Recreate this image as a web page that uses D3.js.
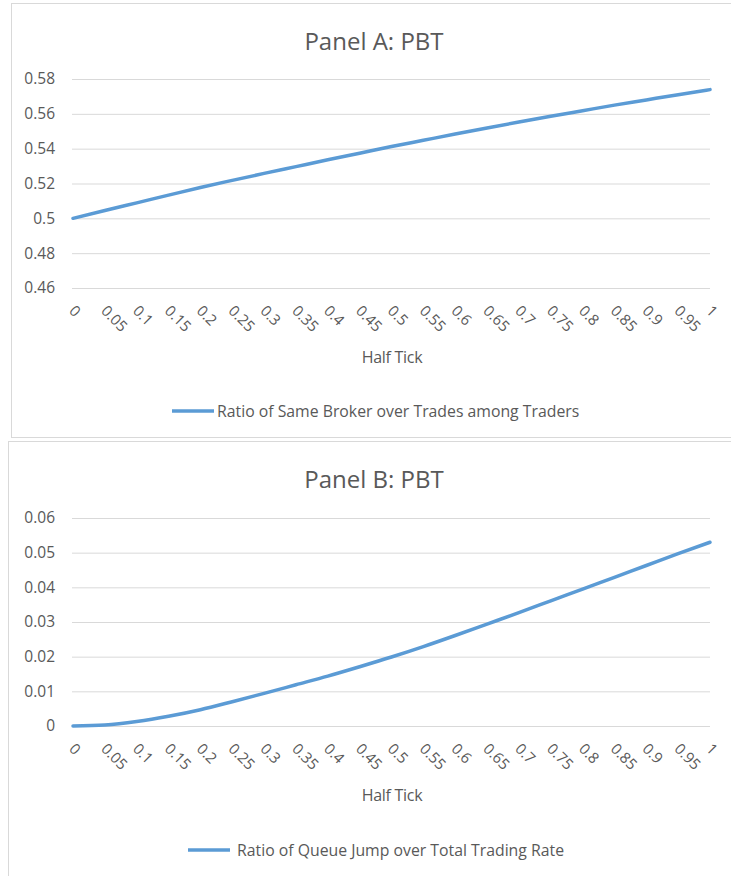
<!DOCTYPE html>
<html>
<head>
<meta charset="utf-8">
<script src="https://cdn.jsdelivr.net/npm/d3@7"></script>
<style>
  body { margin: 0; background: #fff; }
  text { font-family: "Open Sans", sans-serif; fill: #595959; }
</style>
</head>
<body>
<div id="chart"></div>
<script>
// half tick categories (x axis)
const halfTick = ["0","0.05","0.1","0.15","0.2","0.25","0.3","0.35","0.4","0.45","0.5",
  "0.55","0.6","0.65","0.7","0.75","0.8","0.85","0.9","0.95","1"];

// Panel A: ratio of same broker over trades among traders
const sameBroker = [0.5, 0.5045, 0.5089, 0.5133, 0.5177, 0.5218, 0.5258, 0.5297, 0.5336, 0.5374,
  0.5412, 0.5448, 0.5484, 0.5519, 0.5553, 0.5586, 0.5618, 0.5650, 0.5680, 0.5710, 0.5739];
const ticksA = [0.46, 0.48, 0.5, 0.52, 0.54, 0.56, 0.58];

// Panel B: ratio of queue jump over total trading rate
const queueJump = [0, 0.0003, 0.0013, 0.0028, 0.0047, 0.0070, 0.0094, 0.0119, 0.0144, 0.0171,
  0.0199, 0.0229, 0.0261, 0.0294, 0.0327, 0.0361, 0.0395, 0.0429, 0.0463, 0.0497, 0.0530];
const ticksB = [0, 0.01, 0.02, 0.03, 0.04, 0.05, 0.06];

const svg = d3.select("#chart")
  .append("svg")
    .attr("width", 731)
    .attr("height", 876);

function drawPanel(opt) {
  const g = svg.append("g");

  // panel frame
  g.append("rect")
    .attr("x", opt.box[0] + 0.5).attr("y", opt.box[1] + 0.5)
    .attr("width", opt.box[2]).attr("height", opt.box[3])
    .attr("fill", "#fff").attr("stroke", "#d9d9d9");

  const x = d3.scalePoint()
    .domain(halfTick)
    .range([73, 710]);

  const y = d3.scaleLinear()
    .domain(d3.extent(opt.ticks))
    .range([opt.bottom, opt.top]);

  // gridlines + y labels
  const yAxis = g.append("g")
    .attr("transform", "translate(72,0)")
    .call(d3.axisLeft(y).tickValues(opt.ticks).tickSize(-638).tickPadding(17).tickFormat(d => String(+d.toFixed(2))))
    .attr("font-size", 15.5)
    .attr("font-family", "Open Sans");
  yAxis.select(".domain").remove();
  yAxis.selectAll("line").attr("stroke", "#d9d9d9");
  yAxis.selectAll("text")
    .attr("fill", "#595959")
    .style("font-size", "15.5px");

  // x labels rotated
  g.selectAll(".xlab")
    .data(halfTick)
    .join("text")
      .attr("class", "xlab")
      .attr("transform", d => `translate(${x(d) - 1},${opt.bottom + 20}) rotate(45)`)
      .attr("dy", "0.35em")
      .style("font-size", "15px")
      .text(d => d);

  const line = d3.line()
    .x((d, i) => x(halfTick[i]))
    .y(d => y(d))
    .curve(d3.curveMonotoneX);

  g.append("path")
    .datum(opt.values)
    .attr("d", line)
    .attr("fill", "none")
    .attr("stroke", "#5b9bd5")
    .attr("stroke-width", 3.5)
    .attr("stroke-linecap", "round");

  g.append("text")
    .attr("x", 374).attr("y", opt.titleY)
    .attr("text-anchor", "middle")
    .style("font-size", "24px")
    .text(opt.title);

  g.append("text")
    .attr("x", 392).attr("y", opt.bottom + 75)
    .attr("text-anchor", "middle")
    .style("font-size", "16px")
    .style("letter-spacing", "-0.3px")
    .text("Half Tick");

  g.append("line")
    .attr("x1", opt.legX).attr("x2", opt.legX + 42)
    .attr("y1", opt.legY).attr("y2", opt.legY)
    .attr("stroke", "#5b9bd5").attr("stroke-width", 3.5);
  g.append("text")
    .attr("x", opt.legX + opt.legGap).attr("y", opt.legY)
    .attr("dy", "0.35em")
    .style("font-size", "15.8px")
    .text(opt.legend);
}

drawPanel({
  box: [11, 3, 730, 434], top: 79, bottom: 288, ticks: ticksA, values: sameBroker,
  title: "Panel A: PBT", titleY: 50,
  legX: 172, legY: 411, legGap: 45, legend: "Ratio of Same Broker over Trades among Traders"
});

drawPanel({
  box: [8, 441, 730, 440], top: 518, bottom: 726, ticks: ticksB, values: queueJump,
  title: "Panel B: PBT", titleY: 488,
  legX: 188, legY: 850, legGap: 49, legend: "Ratio of Queue Jump over Total Trading Rate"
});
</script>
</body>
</html>
